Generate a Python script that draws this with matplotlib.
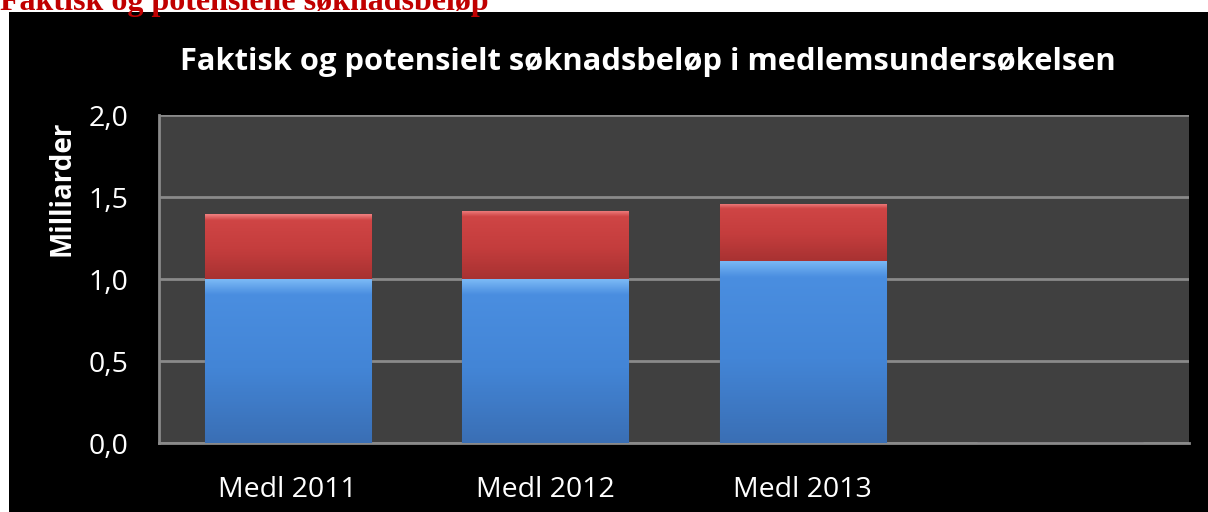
import matplotlib
matplotlib.use("Agg")
import matplotlib.pyplot as plt
import numpy as np
from matplotlib.patches import Rectangle
from matplotlib.colors import LinearSegmentedColormap

categories = ["Medl 2011", "Medl 2012", "Medl 2013", ""]
faktisk = [1.00, 1.00, 1.11, 0.0]
potensielt_tillegg = [0.395, 0.415, 0.35, 0.0]
yticks = [0.0, 0.5, 1.0, 1.5, 2.0]
ytick_labels = ["0,0", "0,5", "1,0", "1,5", "2,0"]

W, H = 1208, 512
fig = plt.figure(figsize=(W / 100, H / 100), dpi=100)
fig.patch.set_facecolor("white")
fig.patches.append(Rectangle((9 / W, 0), 1 - 9 / W, 1 - 12 / H, transform=fig.transFigure,
                             facecolor="black", edgecolor="none", zorder=-10))

fig.text(0 / W, 1 + 12 / H, "Faktisk og potensielle søknadsbeløp", color="#C00000",
         fontsize=23, fontweight="bold", family="Liberation Serif", ha="left", va="top", zorder=-5)

ax = fig.add_axes([159 / W, 1 - 443 / H, (1189 - 159) / W, (443 - 115) / H])
ax.set_facecolor("#404040")
x = list(range(len(categories)))
b1 = ax.bar(x, faktisk, width=0.645, color="#4283D4", edgecolor="#2c5a93", linewidth=0.8, zorder=3)
b2 = ax.bar(x, potensielt_tillegg, bottom=faktisk, width=0.645, color="#C94040",
            edgecolor="#7a2020", linewidth=0.8, zorder=3)

cm_blue = LinearSegmentedColormap.from_list("b", ["#3a6fb5", "#4385d6", "#4a8ee0", "#7ab8f5"])
cm_red = LinearSegmentedColormap.from_list("r", ["#a83232", "#c43d3d", "#cf4545", "#f08080"])
grad = np.concatenate([np.linspace(0, 0.66, 90), np.linspace(0.66, 1.0, 10)]).reshape(-1, 1)
for bars, cm in ((b1, cm_blue), (b2, cm_red)):
    for p in bars:
        bb = p.get_bbox()
        if bb.height <= 0:
            continue
        im = ax.imshow(grad, cmap=cm, aspect="auto", origin="lower",
                       extent=[bb.x0, bb.x1, bb.y0, bb.y1], zorder=3.5, interpolation="bicubic")
        im.set_clip_path(p)

ax.set_xlim(-0.5, len(categories) - 0.5)
ax.set_ylim(0, 2.0)
ax.set_yticks(yticks)
ax.set_yticklabels(ytick_labels)
ax.set_xticks(x)
ax.set_xticklabels(categories)
ax.grid(axis="y", color="#8a8a8a", linewidth=2, zorder=1)
ax.set_axisbelow(True)
for s in ["top", "right"]:
    ax.spines[s].set_visible(False)
for s in ["left", "bottom"]:
    ax.spines[s].set_color("#8a8a8a")
    ax.spines[s].set_linewidth(2)
ax.tick_params(axis="both", length=0, colors="white", labelsize=20.5)
ax.tick_params(axis="y", pad=22)
ax.tick_params(axis="x", pad=24)
for lab in ax.get_xticklabels() + ax.get_yticklabels():
    lab.set_family("Open Sans")

fig.text(648 / W, 1 - 62 / H, "Faktisk og potensielt søknadsbeløp i medlemsundersøkelsen",
         color="white", fontsize=22.2, fontweight="bold", family="Open Sans", ha="center", va="center")
fig.text(62 / W, 1 - 188 / H, "Milliarder", color="white", fontsize=20, fontweight="bold",
         family="Open Sans", rotation=90, ha="center", va="center")

fig.savefig("out.png", dpi=100, facecolor=fig.get_facecolor())
